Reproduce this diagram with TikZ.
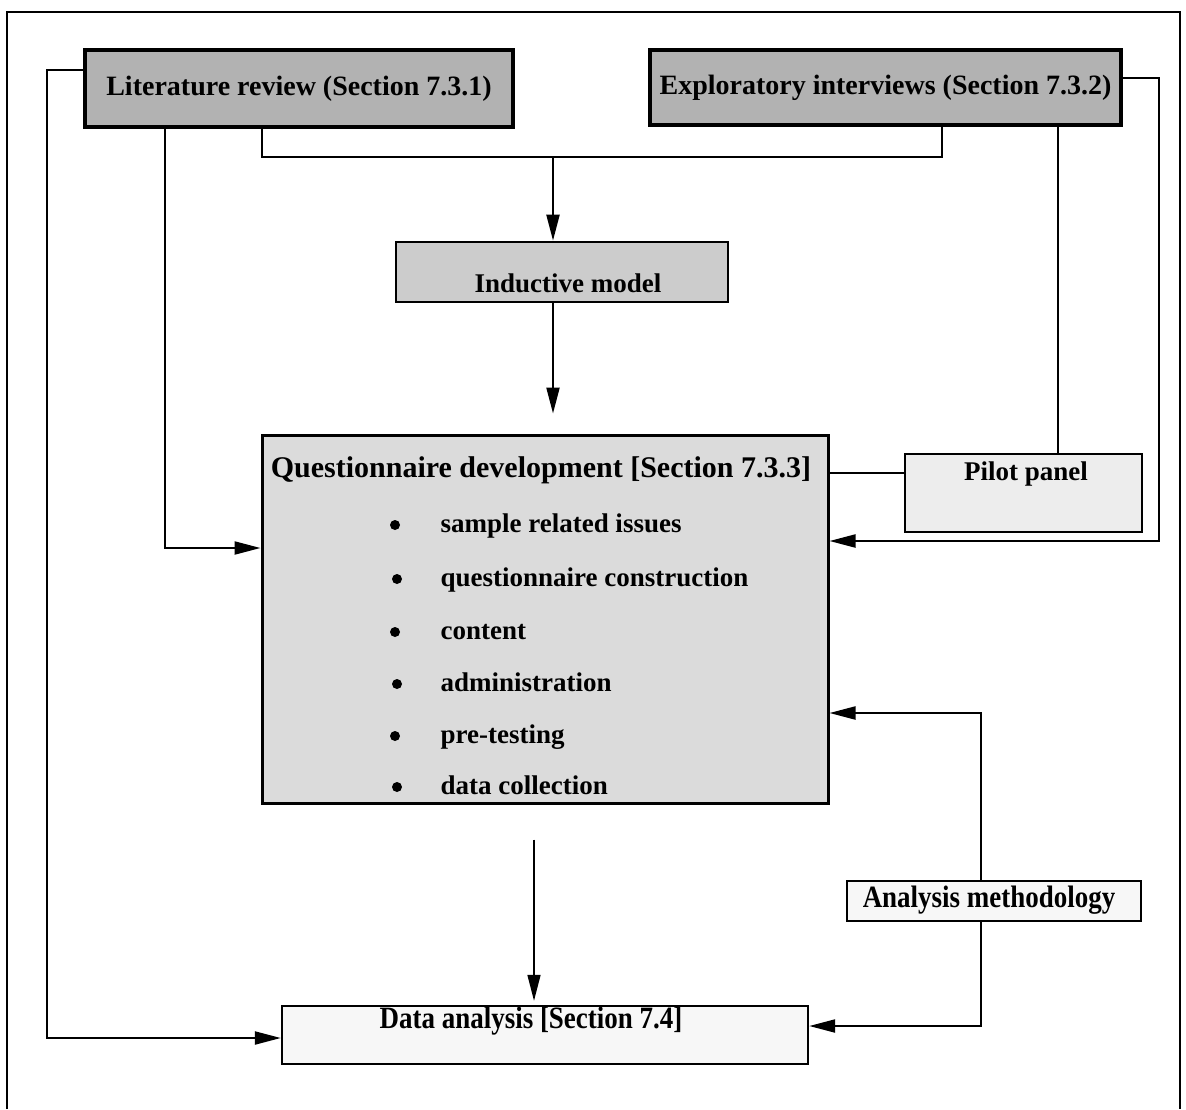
\documentclass[tikz,border=0pt]{standalone}
\usepackage{fontspec}
\setmainfont{Liberation Serif}
\newfontfamily\narrowserif[FakeStretch=0.87]{Liberation Serif}
\usetikzlibrary{arrows.meta}
\begin{document}
\begin{tikzpicture}[x=1pt,y=-1pt,
  box/.style={draw, line width=2.8pt, inner sep=0pt, rectangle},
  big/.style={font=\fontsize{28}{32}\selectfont\bfseries},
  mid/.style={font=\fontsize{27}{31}\selectfont\bfseries},
  narrow/.style={font=\narrowserif\fontsize{31}{35}\selectfont\bfseries},
  conn/.style={line width=2.2pt},
  thin/.style={line width=1.1pt},
  arr/.style={conn, -{Triangle[length=26pt,width=13pt]}},
  dot/.style={circle, fill, inner sep=0pt, minimum size=10pt}]
\useasboundingbox (0,0) rectangle (1186,1109);
\fill[white] (0,0) rectangle (1186,1109);

% outer frame
\draw[line width=2pt] (7,1109) -- (7,12) -- (1180,12) -- (1180,1109);

% boxes
\node[box, big, line width=3.2pt, fill=black!30, minimum width=428pt, minimum height=77pt]
  (lit) at (299,88.5) {Literature review (Section 7.3.1)};
\node[box, big, line width=3.2pt, fill=black!30, minimum width=471pt, minimum height=75pt]
  (exp) at (885.5,87.5) {Exploratory interviews (Section 7.3.2)};
\node[box, fill=black!20, minimum width=332pt, minimum height=60pt]
  (ind) at (562,272) {};
\node[mid] (indT) at (568,283) {Inductive model};
\node[box, line width=3pt, fill=black!14, minimum width=566pt, minimum height=368pt]
  (q) at (545,619) {};
\node[box, line width=2.4pt, fill=black!7, minimum width=237pt, minimum height=78pt]
  (pilot) at (1023.5,493) {};
\node[mid] (pilotT) at (1026,474) {Pilot panel};
\node[box, line width=2.4pt, fill=black!3, minimum width=294pt, minimum height=40pt]
  (an) at (994,901) {};
\node[narrow] (anT) at (989,900) {Analysis methodology};
\node[box, line width=2.4pt, fill=black!3, minimum width=526pt, minimum height=58pt]
  (data) at (545,1035) {};
\node[narrow] (dataT) at (531,1021) {Data analysis [Section 7.4]};

% contents of the questionnaire box
\node[font=\fontsize{30}{34}\selectfont\bfseries] (qT) at (541,470) {Questionnaire development [Section 7.3.3]};
\node[mid, anchor=base west] (i1) at (437,532) {sample related issues};
\node[mid, anchor=base west] (i2) at (437,586) {questionnaire construction};
\node[mid, anchor=base west] (i3) at (437,639) {content};
\node[mid, anchor=base west] (i4) at (437,691) {administration};
\node[mid, anchor=base west] (i5) at (437,743) {pre-testing};
\node[mid, anchor=base west] (i6) at (437,794) {data collection};
\node[dot] (b1) at (395,525) {};
\node[dot] (b2) at (397,579) {};
\node[dot] (b3) at (395,632) {};
\node[dot] (b4) at (397,684) {};
\node[dot] (b5) at (395,736) {};
\node[dot] (b6) at (397,787) {};

% routing points
\coordinate (m1) at (262,157);
\coordinate (m2) at (942,157);
\coordinate (m3) at (553,157);
\coordinate (c1) at (165,548);
\coordinate (c2) at (1159,78);
\coordinate (c3) at (1159,541);
\coordinate (p1) at (1058,300);
\coordinate (p2) at (860,473);
\coordinate (a1) at (981,713);
\coordinate (a2) at (981,1026);
\coordinate (l1) at (47,70);
\coordinate (l2) at (47,1038);
\coordinate (d1) at (534,900);

% connectors
\draw[conn] (lit.south -| m1) -- (m1) -- (m2) -- (exp.south -| m2);
\draw[arr] (m3) -- (ind.north -| m3);
\draw[arr, shorten >=20pt] (ind.south -| m3) -- (q.north -| m3);
\draw[arr] (lit.south -| c1) -- (c1) -- (q.west |- c1);
\draw[arr] (exp.east |- c2) -- (c2) -- (c3) -- (q.east |- c3);
\draw[thin] (exp.south -| p1) -- (pilot.north -| p1);
\draw[line width=1.6pt] (q.east |- p2) -- (pilot.west |- p2);
\draw[arr] (an.north -| a1) -- (a1) -- (q.east |- a1);
\draw[arr] (an.south -| a1) -- (a2) -- (data.east |- a2);
\draw[arr] (lit.west |- l1) -- (l1) -- (l2) -- (data.west |- l2);
\draw[arr, line width=1.6pt, shorten <=35pt, shorten >=4pt] (q.south -| d1) -- (data.north -| d1);
\end{tikzpicture}
\end{document}
